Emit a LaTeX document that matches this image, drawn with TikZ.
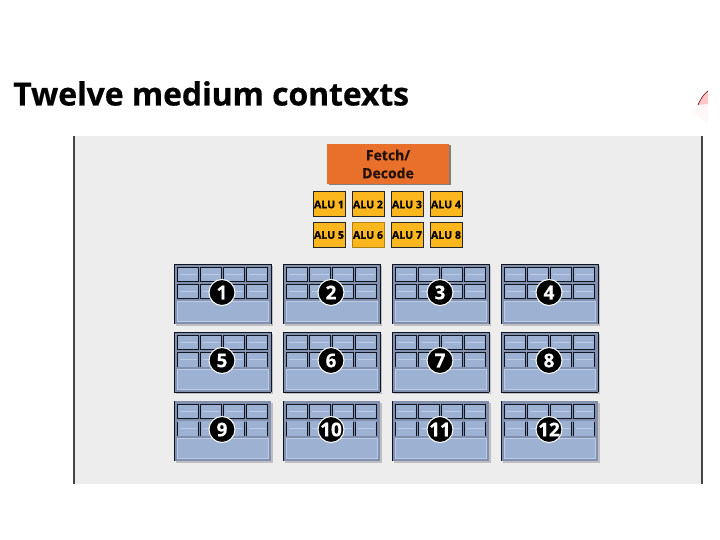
\documentclass[tikz,border=0pt]{standalone}
\usepackage{fontspec}
\setmainfont[BoldFeatures={FakeBold=0.5}]{Open Sans}
\definecolor{panelbg}{HTML}{EDEDED}
\definecolor{panelline}{HTML}{444444}
\definecolor{fetchcol}{HTML}{E8702B}
\definecolor{alucol}{HTML}{FDB71E}
\definecolor{ctxouter}{HTML}{8090AE}
\definecolor{ctxcell}{HTML}{9DB1D2}
\definecolor{ctxlight}{HTML}{BCCBE6}
\definecolor{ctxedge}{HTML}{10141E}
\tikzset{
  x=1pt,y=-1pt,
  fetchbox/.style={draw=none,fill=fetchcol,minimum width=122pt,minimum height=40pt,inner sep=0pt,align=center,
    font=\fontsize{14}{18}\selectfont\bfseries,text=black!85!fetchcol},
  alubox/.style={draw=black!85,line width=1pt,fill=alucol,minimum width=32pt,minimum height=25pt,inner sep=0pt,
    font=\fontsize{10.6}{11}\selectfont\bfseries,text=black},
  badge/.style={circle,draw=white,line width=1pt,fill=black,minimum size=26pt,inner sep=0pt,text=white,
    font=\fontsize{19}{19}\selectfont\bfseries},
  ctxbody/.style={fill=ctxouter,draw=none},
  ctxcellfill/.style={fill=ctxcell,draw=none},
  edgeline/.style={draw=ctxedge,line width=1pt},
  shinyline/.style={draw=ctxlight,line width=.5pt},
}
% #1 left, #2 top, #3 number, #4 style variant (1 full, 2 mid, 3 sides only)
\newcommand{\ctxblock}[4]{%
  \begin{scope}[shift={(#1,#2)}]
    \fill[black!25] (1.5,1.5) rectangle (98.5,61.5);
    \fill[ctxbody] (0,0) rectangle (97,60);
    \ifnum#4<3 \draw[edgeline] (0,0) -- (97,0);\fi
    \ifnum#4=2 \draw[edgeline] (0,60) -- (97,60);\fi
    \draw[edgeline] (0,0) -- (0,60);
    \ifnum#4<3 \draw[edgeline] (97,0) -- (97,60);\fi
    \foreach \cx in {3.5,26.5,49.5,72.5}{%
      \fill[ctxcellfill] (\cx,3.5) rectangle +(20.5,13.5);
      \fill[ctxcellfill] (\cx,20) rectangle +(20.5,14.5);
      \draw[shinyline] (\cx+2,10) -- +(17,0);
      \draw[shinyline] (\cx+2,27) -- +(17,0);
      \ifnum#4=1
        \draw[edgeline] (\cx,3.5) rectangle +(20.5,13.5);
        \draw[edgeline] (\cx,20) rectangle +(20.5,14.5);
      \else\ifnum#4=2
        \draw[edgeline] (\cx,3.5) rectangle +(20.5,13.5);
        \draw[edgeline] (\cx,34.5) -- (\cx,20) -- +(20.5,0) -- +(20.5,14.5);
      \else
        \draw[edgeline] (\cx,3.5) rectangle +(20.5,13.5);
        \draw[edgeline] (\cx,34.5) -- (\cx,21);
        \draw[edgeline] (\cx+20.5,34.5) -- (\cx+20.5,21);
      \fi\fi
    }
    \fill[ctxcell] (3,37.5) rectangle (94,57);
    \draw[shinyline] (3,37.5) rectangle (94,57);
    \node[badge] (ctx#3) at (48,28.5) {#3};
  \end{scope}}
\begin{document}
\begin{tikzpicture}
\useasboundingbox (0,0) rectangle (720,540);
\fill[white] (0,0) rectangle (720,540);
% panel
\fill[panelbg] (74,136) rectangle (702,484);
\draw[panelline,line width=1.2pt] (74,136) -- (74,484);
\draw[panelline,line width=1.2pt] (702,136) -- (702,484);
\node[anchor=base west,inner sep=0pt,font=\fontsize{32}{32}\selectfont\bfseries] (title) at (13,105.5) {\addfontfeature{LetterSpace=-0.4}Twelve medium contexts};
% pink fragment
\fill[red!3] (693,112) -- (698,106) -- (708,104) -- (708,123) -- (702,120) -- cycle;
\fill[red!22!white] (698,105) .. controls (701,98) and (704,94) .. (708,91) -- (708,104) -- cycle;
\draw[red!45!black,line width=.6pt] (698,105) .. controls (701,98) and (704,94) .. (708,91);
% fetch
\fill[black!50] (328.5,145.5) rectangle (450.5,185.5);
\node[fetchbox] (fetch) at (388,164) {Fetch/\\Decode};
% ALUs
\node[alubox] (alu1) at (329,204.5) {ALU 1};
\node[alubox] (alu2) at (368,204.5) {ALU 2};
\node[alubox] (alu3) at (407,204.5) {ALU 3};
\node[alubox] (alu4) at (446,204.5) {ALU 4};
\node[alubox] (alu5) at (329,235) {ALU 5};
\node[alubox,draw=alucol!70!black] (alu6) at (368,235) {ALU 6};
\node[alubox] (alu7) at (407,235) {ALU 7};
\node[alubox] (alu8) at (446,235) {ALU 8};
% contexts
\ctxblock{174}{264}{1}{1}
\ctxblock{283}{264}{2}{1}
\ctxblock{392}{264}{3}{1}
\ctxblock{501}{264}{4}{1}
\ctxblock{174}{332}{5}{2}
\ctxblock{283}{332}{6}{2}
\ctxblock{392}{332}{7}{2}
\ctxblock{501}{332}{8}{2}
\ctxblock{174}{401}{9}{3}
\ctxblock{283}{401}{10}{3}
\ctxblock{392}{401}{11}{3}
\ctxblock{501}{401}{12}{3}
\end{tikzpicture}
\end{document}
